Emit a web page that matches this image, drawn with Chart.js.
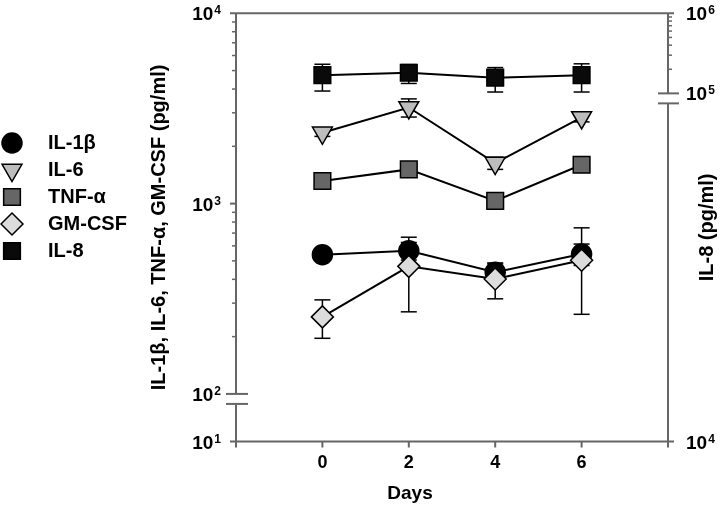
<!DOCTYPE html>
<html lang="en">
<head>
  <meta charset="UTF-8" />
  <title>Cytokines over 6 days</title>
  <script src="https://cdn.jsdelivr.net/npm/chart.js"></script>
  <style>
    body { margin: 0; background: #fff; }
    canvas { display: block; }
  </style>
</head>
<body>
  <canvas id="cytoChart" width="720" height="507"></canvas>

  <script>
    // values (pg/ml), mean and SD per day
    const days = [0, 2, 4, 6];
    const il1b = [539, 565, 436, 543];
    const il1bSd = [20, 60, 46, 70];
    const il6 = [2355, 3200, 1633, 2838];
    const il6Sd = [100, 350, 120, 150];
    const tnf = [1315, 1513, 1034, 1600];
    const tnfSd = [50, 50, 40, 50];
    const gmcsf = [254, 468, 402, 504];
    const gmcsfSd = [58, 198, 86, 242];
    const il8 = [169000, 181000, 157000, 169000];
    const il8Sd = [62000, 48000, 53000, 65000];

    const dayTicks = [0, 2, 4, 6];
    const leftTickExponents = ['1', '2', '3', '4'];
    const rightTickExponents = ['4', '5', '6'];

    // axis breaks: bottom of the left axis stands for 10^1, bottom of the right one for 10^4
    const leftMin = Math.pow(10, 1.75);
    const rightMin = Math.pow(10, 0.653);
    const leftTickValues = [leftMin, 100, 1000, 10000];
    const rightTickValues = [rightMin, 1e5, 1e6];

    const FONT = '"Liberation Sans", Arial, Helvetica, sans-serif';
    Chart.defaults.font.family = FONT;
    Chart.defaults.font.size = 18;
    Chart.defaults.font.weight = 'bold';
    Chart.defaults.color = '#000';

    const series = [
      { label: 'IL-1β', data: il1b, sd: il1bSd, style: 'circle', r: 10, rot: 0, fill: '#000000', axis: 'y', order: 1 },
      { label: 'IL-6', data: il6, sd: il6Sd, style: 'triangle', r: 11.5, rot: 180, fill: '#bdbdbd', axis: 'y', order: 2 },
      { label: 'TNF-α', data: tnf, sd: tnfSd, style: 'rect', r: 11.8, rot: 0, fill: '#666666', axis: 'y', order: 2 },
      { label: 'GM-CSF', data: gmcsf, sd: gmcsfSd, style: 'rectRot', r: 11, rot: 0, fill: '#dcdcdc', axis: 'y', order: 0 },
      { label: 'IL-8', data: il8, sd: il8Sd, style: 'rect', r: 11.8, rot: 0, fill: '#0a0a0a', axis: 'y2', order: 2 }
    ];

    const datasets = series.map(s => ({
      label: s.label,
      data: days.map((d, i) => ({ x: d, y: s.data[i] })),
      sd: s.sd,
      yAxisID: s.axis,
      order: s.order,
      borderColor: '#000',
      borderWidth: 2,
      pointStyle: s.style,
      pointRadius: s.r,
      pointRotation: s.rot,
      pointBackgroundColor: s.fill,
      pointBorderColor: '#000',
      pointBorderWidth: 1.5,
      fill: false,
      tension: 0,
      clip: false
    }));

    // "10" with a raised exponent
    function drawPower(ctx, exp, x, y, align) {
      ctx.font = 'bold 19px ' + FONT;
      const w1 = ctx.measureText('10').width;
      ctx.font = 'bold 12px ' + FONT;
      const w2 = ctx.measureText(exp).width;
      const x0 = align === 'right' ? x - w1 - w2 - 1 : x;
      ctx.textAlign = 'left';
      ctx.textBaseline = 'alphabetic';
      ctx.font = 'bold 19px ' + FONT;
      ctx.fillText('10', x0, y + 7);
      ctx.font = 'bold 12px ' + FONT;
      ctx.fillText(exp, x0 + w1 + 1, y + 1);
    }

    // frame, ticks, axis breaks and error bars
    const decor = {
      id: 'decor',
      beforeDatasetsDraw(chart) {
        const { ctx, chartArea: a, scales } = chart;
        const yL = scales.y, yR = scales.y2, xs = scales.x;
        const seg = (x1, y1, x2, y2) => {
          ctx.beginPath(); ctx.moveTo(x1, y1); ctx.lineTo(x2, y2); ctx.stroke();
        };
        const big = 6, small = 4, gap = 10;
        ctx.save();
        ctx.strokeStyle = '#666';
        ctx.lineWidth = 2;

        seg(a.left - big, a.top, a.right + big, a.top);
        seg(a.left - big, a.bottom, a.right + big, a.bottom);

        const p2 = yL.getPixelForValue(100);
        seg(a.left, a.top, a.left, p2);
        seg(a.left, p2 + gap, a.left, a.bottom + big);
        seg(a.left - 10, p2, a.left + 12, p2);
        seg(a.left - 10, p2 + gap, a.left + 12, p2 + gap);
        const p3 = yL.getPixelForValue(1000);
        seg(a.left - big, p3, a.left, p3);

        const p5 = yR.getPixelForValue(1e5);
        seg(a.right, a.top, a.right, p5);
        seg(a.right, p5 + gap, a.right, a.bottom + big);
        seg(a.right - 10, p5, a.right + 11, p5);
        seg(a.right - 10, p5 + gap, a.right + 11, p5 + gap);

        dayTicks.forEach(d => {
          const px = xs.getPixelForValue(d);
          seg(px, a.bottom, px, a.bottom + big);
        });

        ctx.lineWidth = 1.5;
        [100, 1000].forEach(dec => {
          for (let k = 2; k <= 9; k++) {
            const py = yL.getPixelForValue(k * dec);
            seg(a.left - small, py, a.left, py);
          }
        });
        for (let k = 2; k <= 9; k++) {
          const py = yR.getPixelForValue(k * 1e5);
          seg(a.right, py, a.right + small, py);
        }

        // error bars (mean ± SD)
        ctx.strokeStyle = '#000';
        ctx.lineWidth = 1.5;
        chart.data.datasets.forEach(ds => {
          const ys = scales[ds.yAxisID];
          ds.data.forEach((pt, j) => {
            const px = xs.getPixelForValue(pt.x);
            const hi = ys.getPixelForValue(pt.y + ds.sd[j]);
            const lo = ys.getPixelForValue(pt.y - ds.sd[j]);
            seg(px, hi, px, lo);
            seg(px - 8, hi, px + 8, hi);
            seg(px - 8, lo, px + 8, lo);
          });
        });
        ctx.restore();
      },
      afterDraw(chart) {
        const { ctx, chartArea: a, scales } = chart;
        ctx.save();
        ctx.fillStyle = '#000';

        // power-of-ten tick labels on both y axes
        leftTickValues.forEach((v, i) => {
          drawPower(ctx, leftTickExponents[i], a.left - 15, scales.y.getPixelForValue(v), 'right');
        });
        rightTickValues.forEach((v, i) => {
          drawPower(ctx, rightTickExponents[i], a.right + 18, scales.y2.getPixelForValue(v), 'left');
        });

        // legend
        ctx.font = 'bold 20px ' + FONT;
        ctx.textBaseline = 'middle';
        ctx.textAlign = 'left';
        series.forEach((s, i) => {
          const cy = 143 + i * 27;
          ctx.fillStyle = s.fill;
          ctx.strokeStyle = '#000';
          ctx.lineWidth = 1.5;
          Chart.helpers.drawPoint(ctx, { pointStyle: s.style, radius: s.r, rotation: s.rot, borderWidth: 1.5 }, 12, cy);
          ctx.fillStyle = '#000';
          ctx.fillText(s.label, 48, cy);
        });

        // x title sits under day 2 in the original
        ctx.textAlign = 'center';
        ctx.font = 'bold 19px ' + FONT;
        ctx.fillText('Days', 410, 494);

        // right axis title, reading upwards like the left one
        ctx.font = 'bold 20px ' + FONT;
        ctx.translate(707, (a.top + a.bottom) / 2);
        ctx.rotate(-Math.PI / 2);
        ctx.fillText('IL-8 (pg/ml)', 0, 0);
        ctx.restore();
      }
    };

    new Chart(document.getElementById('cytoChart'), {
      type: 'line',
      data: { datasets },
      options: {
        responsive: false,
        animation: false,
        devicePixelRatio: 1,
        layout: { padding: { top: 10, left: 0, right: 0, bottom: 0 } },
        plugins: {
          legend: { display: false },
          tooltip: { enabled: false }
        },
        scales: {
          x: {
            type: 'linear',
            min: -2,
            max: 8,
            grid: { display: false, drawTicks: false },
            border: { display: false },
            afterBuildTicks: s => { s.ticks = dayTicks.map(v => ({ value: v })); },
            ticks: { padding: 11 },
            afterFit: s => { s.height = 65.5; }
          },
          y: {
            type: 'logarithmic',
            position: 'left',
            min: leftMin,
            max: 10000,
            grid: { display: false, drawTicks: false },
            border: { display: false },
            ticks: { display: false },
            title: {
              display: true,
              text: 'IL-1β, IL-6, TNF-α, GM-CSF (pg/ml)',
              font: { size: 20 },
              padding: { top: 147, bottom: 0 }
            },
            afterFit: s => { s.width = 236; }
          },
          y2: {
            type: 'logarithmic',
            position: 'right',
            min: rightMin,
            max: 1e6,
            grid: { display: false, drawTicks: false },
            border: { display: false },
            ticks: { display: false },
            afterFit: s => { s.width = 52; }
          }
        }
      },
      plugins: [decor]
    });
  </script>
</body>
</html>
